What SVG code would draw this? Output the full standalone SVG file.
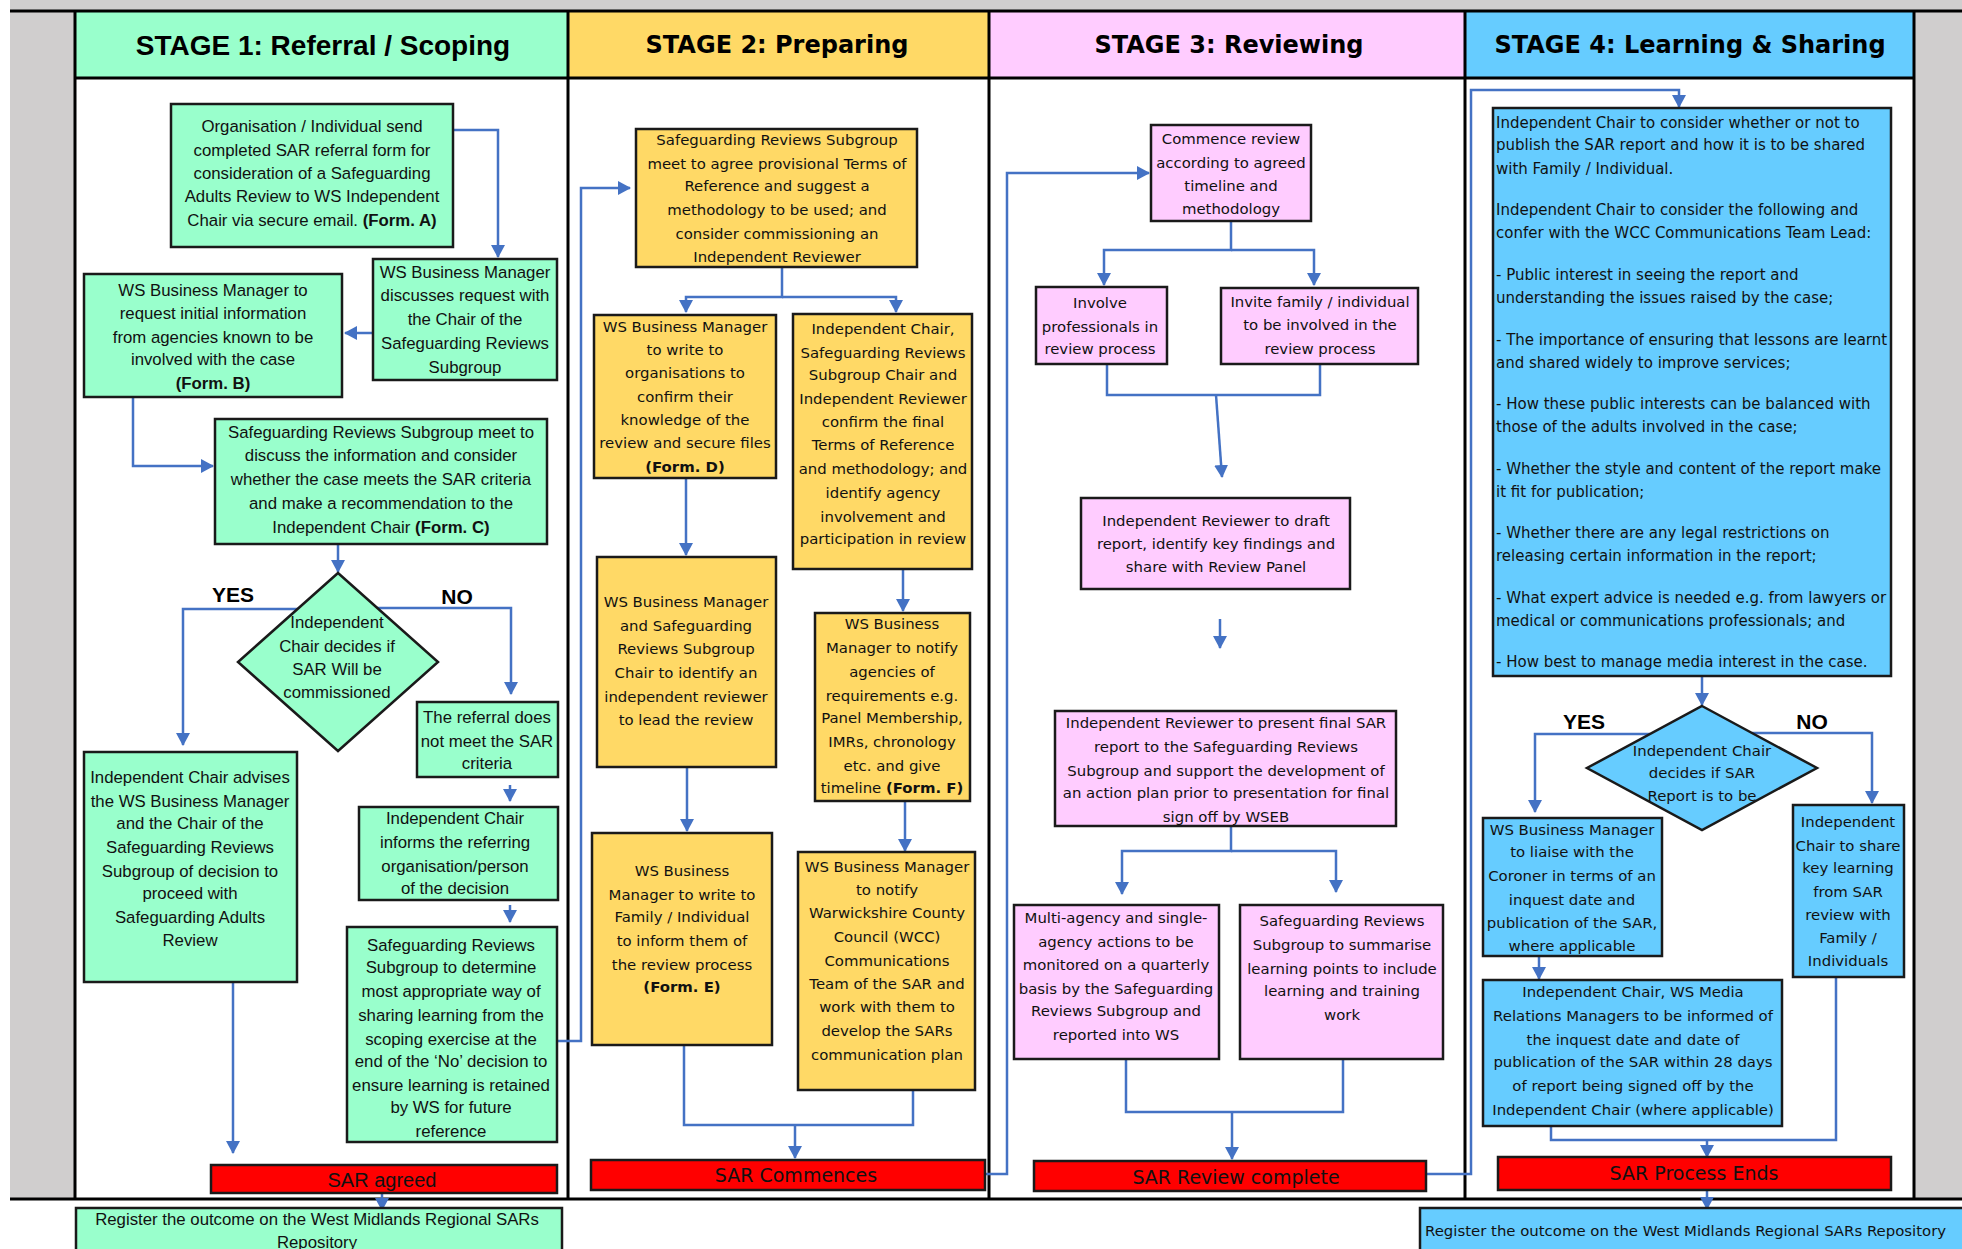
<svg xmlns="http://www.w3.org/2000/svg" width="1962" height="1249" viewBox="0 0 1962 1249">
<style>
.g{fill:#99FFCC}.y{fill:#FFD966}.p{fill:#FFCCFF}.b{fill:#66CCFF}.r{fill:#FF0000}
.bx{stroke:#1a1a1a;stroke-width:2.5}
.t1{font-family:"Liberation Sans",Arial,sans-serif;font-size:16.8px;fill:#111;text-anchor:middle;dominant-baseline:central}
.t2{font-family:"DejaVu Sans",Verdana,sans-serif;font-size:14.9px;fill:#111;text-anchor:middle;dominant-baseline:central}
.t3{font-family:"DejaVu Sans",Verdana,sans-serif;font-size:15px;fill:#111;dominant-baseline:central}
.h1{font-family:"Liberation Sans",Arial,sans-serif;font-size:28px;font-weight:bold;fill:#000;text-anchor:middle;dominant-baseline:central}
.h2{font-family:"DejaVu Sans",Verdana,sans-serif;font-size:24px;font-weight:bold;fill:#000;text-anchor:middle;dominant-baseline:central}
.lb{font-family:"Liberation Sans",Arial,sans-serif;font-size:21px;font-weight:bold;fill:#000;text-anchor:middle;dominant-baseline:central}
.rt1{font-family:"Liberation Sans",Arial,sans-serif;font-size:20px;fill:#111;text-anchor:middle;dominant-baseline:central}
.rt2{font-family:"DejaVu Sans",Verdana,sans-serif;font-size:19px;fill:#111;text-anchor:middle;dominant-baseline:central}
.bd{font-weight:bold}
.c{fill:none;stroke:#4472C4;stroke-width:2.5}
.ca{fill:none;stroke:#4472C4;stroke-width:2.5;marker-end:url(#ah)}
.fr{stroke:#000;stroke-width:3;fill:none}
</style>
<defs>
<marker id="ah" markerWidth="14" markerHeight="14" refX="12" refY="7" orient="auto" markerUnits="userSpaceOnUse">
<path d="M0,0 L13,7 L0,14 z" fill="#4472C4"/>
</marker>
</defs>

<!-- background / frame -->
<rect x="0" y="0" width="1962" height="1249" fill="#fff"/>
<rect x="10" y="0" width="1952" height="1199" fill="#D0CECE"/>
<rect x="75" y="11" width="1839" height="1188" fill="#fff"/>
<g id="headers">
<rect x="75" y="11" width="493" height="67" class="g"/>
<rect x="568" y="11" width="421" height="67" class="y"/>
<rect x="989" y="11" width="476" height="67" class="p"/>
<rect x="1465" y="11" width="449" height="67" class="b"/>
<text class="h1" x="323" y="45">STAGE 1: Referral / Scoping</text>
<text class="h2" x="777" y="45">STAGE 2: Preparing</text>
<text class="h2" x="1229" y="45">STAGE 3: Reviewing</text>
<text class="h2" x="1690" y="45">STAGE 4: Learning &amp; Sharing</text>
</g>
<path class="fr" d="M10,11 H1962 M10,1199 H1962 M75,78 H1914 M75,11 V1199 M568,11 V1199 M989,11 V1199 M1465,11 V1199 M1914,11 V1199"/>

<!-- connectors -->
<g id="connectors">
<path class="ca" d="M453,130 H498 V257"/>
<path class="ca" d="M373,333 H345"/>
<path class="ca" d="M133,397 V466 H213"/>
<path class="ca" d="M338,544 V572"/>
<path class="ca" d="M298,609 H183 V745"/>
<path class="ca" d="M377,608 H511 V694"/>
<path class="ca" d="M510,785 V801"/>
<path class="ca" d="M510,905 V922"/>
<path class="ca" d="M233,982 V1153"/>
<path class="ca" d="M557,1041 H581 V188 H630"/>
<path class="ca" d="M382,1193 V1210"/>

<path class="ca" d="M782,267 V297 H686 V312"/>
<path class="ca" d="M782,297 H896 V312"/>
<path class="ca" d="M686,478 V555"/>
<path class="ca" d="M903,569 V611"/>
<path class="ca" d="M687,767 V831"/>
<path class="ca" d="M905,801 V851"/>
<path class="c" d="M684,1045 V1125 H913 V1090"/>
<path class="ca" d="M795,1125 V1158"/>
<path class="ca" d="M985,1174 H1007 V173 H1149"/>

<path class="ca" d="M1231,221 V250 H1104 V285"/>
<path class="ca" d="M1231,250 H1314 V285"/>
<path class="c" d="M1107,364 V395 H1320 V364"/>
<path class="ca" d="M1216,395 L1222,477"/>
<path class="ca" d="M1220,619 V648"/>
<path class="ca" d="M1231,826 V851 H1122 V894"/>
<path class="ca" d="M1231,851 H1336 V892"/>
<path class="c" d="M1126,1059 V1112 H1343 V1059"/>
<path class="ca" d="M1232,1112 V1159"/>
<path class="ca" d="M1426,1174 H1471 V90 H1679 V107"/>

<path class="ca" d="M1702,676 V705"/>
<path class="ca" d="M1650,734 H1535 V812"/>
<path class="ca" d="M1752,733 H1872 V803"/>
<path class="ca" d="M1539,956 V979"/>
<path class="c" d="M1551,1126 V1140 H1836 V977"/>
<path class="ca" d="M1707,1140 V1157"/>
<path class="ca" d="M1707,1190 V1209"/>
</g>

<!-- Stage 1 -->
<g id="s1-referral">
<rect class="g bx" x="171" y="104" width="282" height="143"/>
<text class="t1"><tspan x="312" y="126">Organisation / Individual send</tspan><tspan x="312" y="150">completed SAR referral form for</tspan><tspan x="312" y="173">consideration of a Safeguarding</tspan><tspan x="312" y="196">Adults Review to WS Independent</tspan><tspan x="312" y="220">Chair via secure email. <tspan class="bd">(Form. A)</tspan></tspan></text>
</g>
<g id="s1-discuss">
<rect class="g bx" x="373" y="259" width="184" height="121"/>
<text class="t1"><tspan x="465" y="272">WS Business Manager</tspan><tspan x="465" y="295">discusses request with</tspan><tspan x="465" y="319">the Chair of the</tspan><tspan x="465" y="343">Safeguarding Reviews</tspan><tspan x="465" y="367">Subgroup</tspan></text>
</g>
<g id="s1-request">
<rect class="g bx" x="84" y="274" width="258" height="123"/>
<text class="t1"><tspan x="213" y="290">WS Business Manager to</tspan><tspan x="213" y="313">request initial information</tspan><tspan x="213" y="337">from agencies known to be</tspan><tspan x="213" y="359">involved with the case</tspan><tspan x="213" y="383" class="bd">(Form. B)</tspan></text>
</g>
<g id="s1-meet">
<rect class="g bx" x="215" y="419" width="332" height="125"/>
<text class="t1"><tspan x="381" y="432">Safeguarding Reviews Subgroup meet to</tspan><tspan x="381" y="455">discuss the information and consider</tspan><tspan x="381" y="479">whether the case meets the SAR criteria</tspan><tspan x="381" y="503">and make a recommendation to the</tspan><tspan x="381" y="527">Independent Chair <tspan class="bd">(Form. C)</tspan></tspan></text>
</g>
<g id="s1-decision">
<path class="g bx" d="M338,573 L438,662 L338,751 L238,662 Z"/>
<text class="t1"><tspan x="337" y="622">Independent</tspan><tspan x="337" y="646">Chair decides if</tspan><tspan x="337" y="669">SAR Will be</tspan><tspan x="337" y="692">commissioned</tspan></text>
<text class="lb" x="233" y="594">YES</text>
<text class="lb" x="457" y="596">NO</text>
</g>
<g id="s1-notmeet">
<rect class="g bx" x="417" y="702" width="141" height="75"/>
<text class="t1"><tspan x="487" y="717">The referral does</tspan><tspan x="487" y="741">not meet the SAR</tspan><tspan x="487" y="763">criteria</tspan></text>
</g>
<g id="s1-advises">
<rect class="g bx" x="84" y="752" width="213" height="230"/>
<text class="t1"><tspan x="190" y="777">Independent Chair advises</tspan><tspan x="190" y="801">the WS Business Manager</tspan><tspan x="190" y="823">and the Chair of the</tspan><tspan x="190" y="847">Safeguarding Reviews</tspan><tspan x="190" y="871">Subgroup of decision to</tspan><tspan x="190" y="893">proceed with</tspan><tspan x="190" y="917">Safeguarding Adults</tspan><tspan x="190" y="940">Review</tspan></text>
</g>
<g id="s1-informs">
<rect class="g bx" x="359" y="807" width="199" height="93"/>
<text class="t1"><tspan x="455" y="818">Independent Chair</tspan><tspan x="455" y="842">informs the referring</tspan><tspan x="455" y="866">organisation/person</tspan><tspan x="455" y="888">of the decision</tspan></text>
</g>
<g id="s1-determine">
<rect class="g bx" x="347" y="927" width="210" height="215"/>
<text class="t1"><tspan x="451" y="945">Safeguarding Reviews</tspan><tspan x="451" y="967">Subgroup to determine</tspan><tspan x="451" y="991">most appropriate way of</tspan><tspan x="451" y="1015">sharing learning from the</tspan><tspan x="451" y="1039">scoping exercise at the</tspan><tspan x="451" y="1061">end of the ‘No’ decision to</tspan><tspan x="451" y="1085">ensure learning is retained</tspan><tspan x="451" y="1107">by WS for future</tspan><tspan x="451" y="1131">reference</tspan></text>
</g>
<g id="s1-agreed">
<rect class="r bx" x="211" y="1165" width="346" height="28"/>
<text class="rt1" x="382" y="1180">SAR agreed</text>
</g>
<g id="s1-register">
<rect class="g bx" x="76" y="1208" width="486" height="52"/>
<text class="t1"><tspan x="317" y="1219">Register the outcome on the West Midlands Regional SARs</tspan><tspan x="317" y="1242">Repository</tspan></text>
</g>

<!-- Stage 2 -->
<g id="s2-provisional">
<rect class="y bx" x="636" y="129" width="281" height="138"/>
<text class="t2"><tspan x="777" y="140">Safeguarding Reviews Subgroup</tspan><tspan x="777" y="164">meet to agree provisional Terms of</tspan><tspan x="777" y="186">Reference and suggest a</tspan><tspan x="777" y="210">methodology to be used; and</tspan><tspan x="777" y="234">consider commissioning an</tspan><tspan x="777" y="257">Independent Reviewer</tspan></text>
</g>
<g id="s2-organisations">
<rect class="y bx" x="594" y="315" width="182" height="163"/>
<text class="t2"><tspan x="685" y="327">WS Business Manager</tspan><tspan x="685" y="350">to write to</tspan><tspan x="685" y="373">organisations to</tspan><tspan x="685" y="397">confirm their</tspan><tspan x="685" y="420">knowledge of the</tspan><tspan x="685" y="443">review and secure files</tspan><tspan x="685" y="467" class="bd">(Form. D)</tspan></text>
</g>
<g id="s2-confirm">
<rect class="y bx" x="793" y="314" width="179" height="255"/>
<text class="t2"><tspan x="883" y="329">Independent Chair,</tspan><tspan x="883" y="353">Safeguarding Reviews</tspan><tspan x="883" y="375">Subgroup Chair and</tspan><tspan x="883" y="399">Independent Reviewer</tspan><tspan x="883" y="422">confirm the final</tspan><tspan x="883" y="445">Terms of Reference</tspan><tspan x="883" y="469">and methodology; and</tspan><tspan x="883" y="493">identify agency</tspan><tspan x="883" y="517">involvement and</tspan><tspan x="883" y="539">participation in review</tspan></text>
</g>
<g id="s2-identify">
<rect class="y bx" x="597" y="557" width="179" height="210"/>
<text class="t2"><tspan x="686" y="602">WS Business Manager</tspan><tspan x="686" y="626">and Safeguarding</tspan><tspan x="686" y="649">Reviews Subgroup</tspan><tspan x="686" y="673">Chair to identify an</tspan><tspan x="686" y="697">independent reviewer</tspan><tspan x="686" y="720">to lead the review</tspan></text>
</g>
<g id="s2-agencies">
<rect class="y bx" x="815" y="613" width="155" height="188"/>
<text class="t2"><tspan x="892" y="624">WS Business</tspan><tspan x="892" y="648">Manager to notify</tspan><tspan x="892" y="672">agencies of</tspan><tspan x="892" y="696">requirements e.g.</tspan><tspan x="892" y="718">Panel Membership,</tspan><tspan x="892" y="742">IMRs, chronology</tspan><tspan x="892" y="766">etc. and give</tspan><tspan x="892" y="788">timeline <tspan class="bd">(Form. F)</tspan></tspan></text>
</g>
<g id="s2-family">
<rect class="y bx" x="592" y="833" width="180" height="212"/>
<text class="t2"><tspan x="682" y="871">WS Business</tspan><tspan x="682" y="895">Manager to write to</tspan><tspan x="682" y="917">Family / Individual</tspan><tspan x="682" y="941">to inform them of</tspan><tspan x="682" y="965">the review process</tspan><tspan x="682" y="987" class="bd">(Form. E)</tspan></text>
</g>
<g id="s2-wcc">
<rect class="y bx" x="798" y="852" width="177" height="238"/>
<text class="t2"><tspan x="887" y="867">WS Business Manager</tspan><tspan x="887" y="890">to notify</tspan><tspan x="887" y="913">Warwickshire County</tspan><tspan x="887" y="937">Council (WCC)</tspan><tspan x="887" y="961">Communications</tspan><tspan x="887" y="984">Team of the SAR and</tspan><tspan x="887" y="1007">work with them to</tspan><tspan x="887" y="1031">develop the SARs</tspan><tspan x="887" y="1055">communication plan</tspan></text>
</g>
<g id="s2-commences">
<rect class="r bx" x="591" y="1160" width="394" height="30"/>
<text class="rt2" x="796" y="1175">SAR Commences</text>
</g>

<!-- Stage 3 -->
<g id="s3-commence">
<rect class="p bx" x="1151" y="125" width="160" height="96"/>
<text class="t2"><tspan x="1231" y="139">Commence review</tspan><tspan x="1231" y="163">according to agreed</tspan><tspan x="1231" y="186">timeline and</tspan><tspan x="1231" y="209">methodology</tspan></text>
</g>
<g id="s3-involve">
<rect class="p bx" x="1036" y="287" width="131" height="77"/>
<text class="t2"><tspan x="1100" y="303">Involve</tspan><tspan x="1100" y="327">professionals in</tspan><tspan x="1100" y="349">review process</tspan></text>
</g>
<g id="s3-invite">
<rect class="p bx" x="1221" y="288" width="197" height="76"/>
<text class="t2"><tspan x="1320" y="302">Invite family / individual</tspan><tspan x="1320" y="325">to be involved in the</tspan><tspan x="1320" y="349">review process</tspan></text>
</g>
<g id="s3-draft">
<rect class="p bx" x="1081" y="498" width="269" height="91"/>
<text class="t2"><tspan x="1216" y="521">Independent Reviewer to draft</tspan><tspan x="1216" y="544">report, identify key findings and</tspan><tspan x="1216" y="567">share with Review Panel</tspan></text>
</g>
<g id="s3-present">
<rect class="p bx" x="1055" y="711" width="341" height="115"/>
<text class="t2"><tspan x="1226" y="723">Independent Reviewer to present final SAR</tspan><tspan x="1226" y="747">report to the Safeguarding Reviews</tspan><tspan x="1226" y="771">Subgroup and support the development of</tspan><tspan x="1226" y="793">an action plan prior to presentation for final</tspan><tspan x="1226" y="817">sign off by WSEB</tspan></text>
</g>
<g id="s3-multi">
<rect class="p bx" x="1014" y="905" width="205" height="154"/>
<text class="t2"><tspan x="1116" y="918">Multi-agency and single-</tspan><tspan x="1116" y="942">agency actions to be</tspan><tspan x="1116" y="965">monitored on a quarterly</tspan><tspan x="1116" y="989">basis by the Safeguarding</tspan><tspan x="1116" y="1011">Reviews Subgroup and</tspan><tspan x="1116" y="1035">reported into WS</tspan></text>
</g>
<g id="s3-summarise">
<rect class="p bx" x="1240" y="905" width="203" height="154"/>
<text class="t2"><tspan x="1342" y="921">Safeguarding Reviews</tspan><tspan x="1342" y="945">Subgroup to summarise</tspan><tspan x="1342" y="969">learning points to include</tspan><tspan x="1342" y="991">learning and training</tspan><tspan x="1342" y="1015">work</tspan></text>
</g>
<g id="s3-complete">
<rect class="r bx" x="1034" y="1161" width="392" height="30"/>
<text class="rt2" x="1236" y="1177">SAR Review complete</text>
</g>

<!-- Stage 4 -->
<g id="s4-consider">
<rect class="b bx" x="1493" y="108" width="398" height="568"/>
<text class="t3"><tspan x="1496" y="123">Independent Chair to consider whether or not to</tspan><tspan x="1496" y="145">publish the SAR report and how it is to be shared</tspan><tspan x="1496" y="169">with Family / Individual.</tspan><tspan x="1496" y="210">Independent Chair to consider the following and</tspan><tspan x="1496" y="233">confer with the WCC Communications Team Lead:</tspan><tspan x="1496" y="275">- Public interest in seeing the report and</tspan><tspan x="1496" y="298">understanding the issues raised by the case;</tspan><tspan x="1496" y="340">- The importance of ensuring that lessons are learnt</tspan><tspan x="1496" y="363">and shared widely to improve services;</tspan><tspan x="1496" y="404">- How these public interests can be balanced with</tspan><tspan x="1496" y="427">those of the adults involved in the case;</tspan><tspan x="1496" y="469">- Whether the style and content of the report make</tspan><tspan x="1496" y="492">it fit for publication;</tspan><tspan x="1496" y="533">- Whether there are any legal restrictions on</tspan><tspan x="1496" y="556">releasing certain information in the report;</tspan><tspan x="1496" y="598">- What expert advice is needed e.g. from lawyers or</tspan><tspan x="1496" y="621">medical or communications professionals; and</tspan><tspan x="1496" y="662">- How best to manage media interest in the case.</tspan></text>
</g>
<g id="s4-decision">
<path class="b bx" d="M1702,706 L1817,768 L1702,830 L1587,768 Z"/>
<text class="t2"><tspan x="1702" y="751">Independent Chair</tspan><tspan x="1702" y="773">decides if SAR</tspan><tspan x="1702" y="796">Report is to be</tspan></text>
<text class="lb" x="1584" y="721">YES</text>
<text class="lb" x="1812" y="721">NO</text>
</g>
<g id="s4-coroner">
<rect class="b bx" x="1483" y="818" width="179" height="138"/>
<text class="t2"><tspan x="1572" y="830">WS Business Manager</tspan><tspan x="1572" y="852">to liaise with the</tspan><tspan x="1572" y="876">Coroner in terms of an</tspan><tspan x="1572" y="900">inquest date and</tspan><tspan x="1572" y="923">publication of the SAR,</tspan><tspan x="1572" y="946">where applicable</tspan></text>
</g>
<g id="s4-share">
<rect class="b bx" x="1793" y="805" width="111" height="172"/>
<text class="t2"><tspan x="1848" y="822">Independent</tspan><tspan x="1848" y="846">Chair to share</tspan><tspan x="1848" y="868">key learning</tspan><tspan x="1848" y="892">from SAR</tspan><tspan x="1848" y="915">review with</tspan><tspan x="1848" y="938">Family /</tspan><tspan x="1848" y="961">Individuals</tspan></text>
</g>
<g id="s4-media">
<rect class="b bx" x="1483" y="980" width="299" height="146"/>
<text class="t2"><tspan x="1633" y="992">Independent Chair, WS Media</tspan><tspan x="1633" y="1016">Relations Managers to be informed of</tspan><tspan x="1633" y="1040">the inquest date and date of</tspan><tspan x="1633" y="1062">publication of the SAR within 28 days</tspan><tspan x="1633" y="1086">of report being signed off by the</tspan><tspan x="1633" y="1110">Independent Chair (where applicable)</tspan></text>
</g>
<g id="s4-ends">
<rect class="r bx" x="1498" y="1157" width="393" height="33"/>
<text class="rt2" x="1694" y="1173">SAR Process Ends</text>
</g>
<g id="s4-register">
<rect class="b bx" x="1420" y="1208" width="560" height="52"/>
<text class="t2" x="1425" y="1231" style="text-anchor:start">Register the outcome on the West Midlands Regional SARs Repository</text>
</g>
</svg>
